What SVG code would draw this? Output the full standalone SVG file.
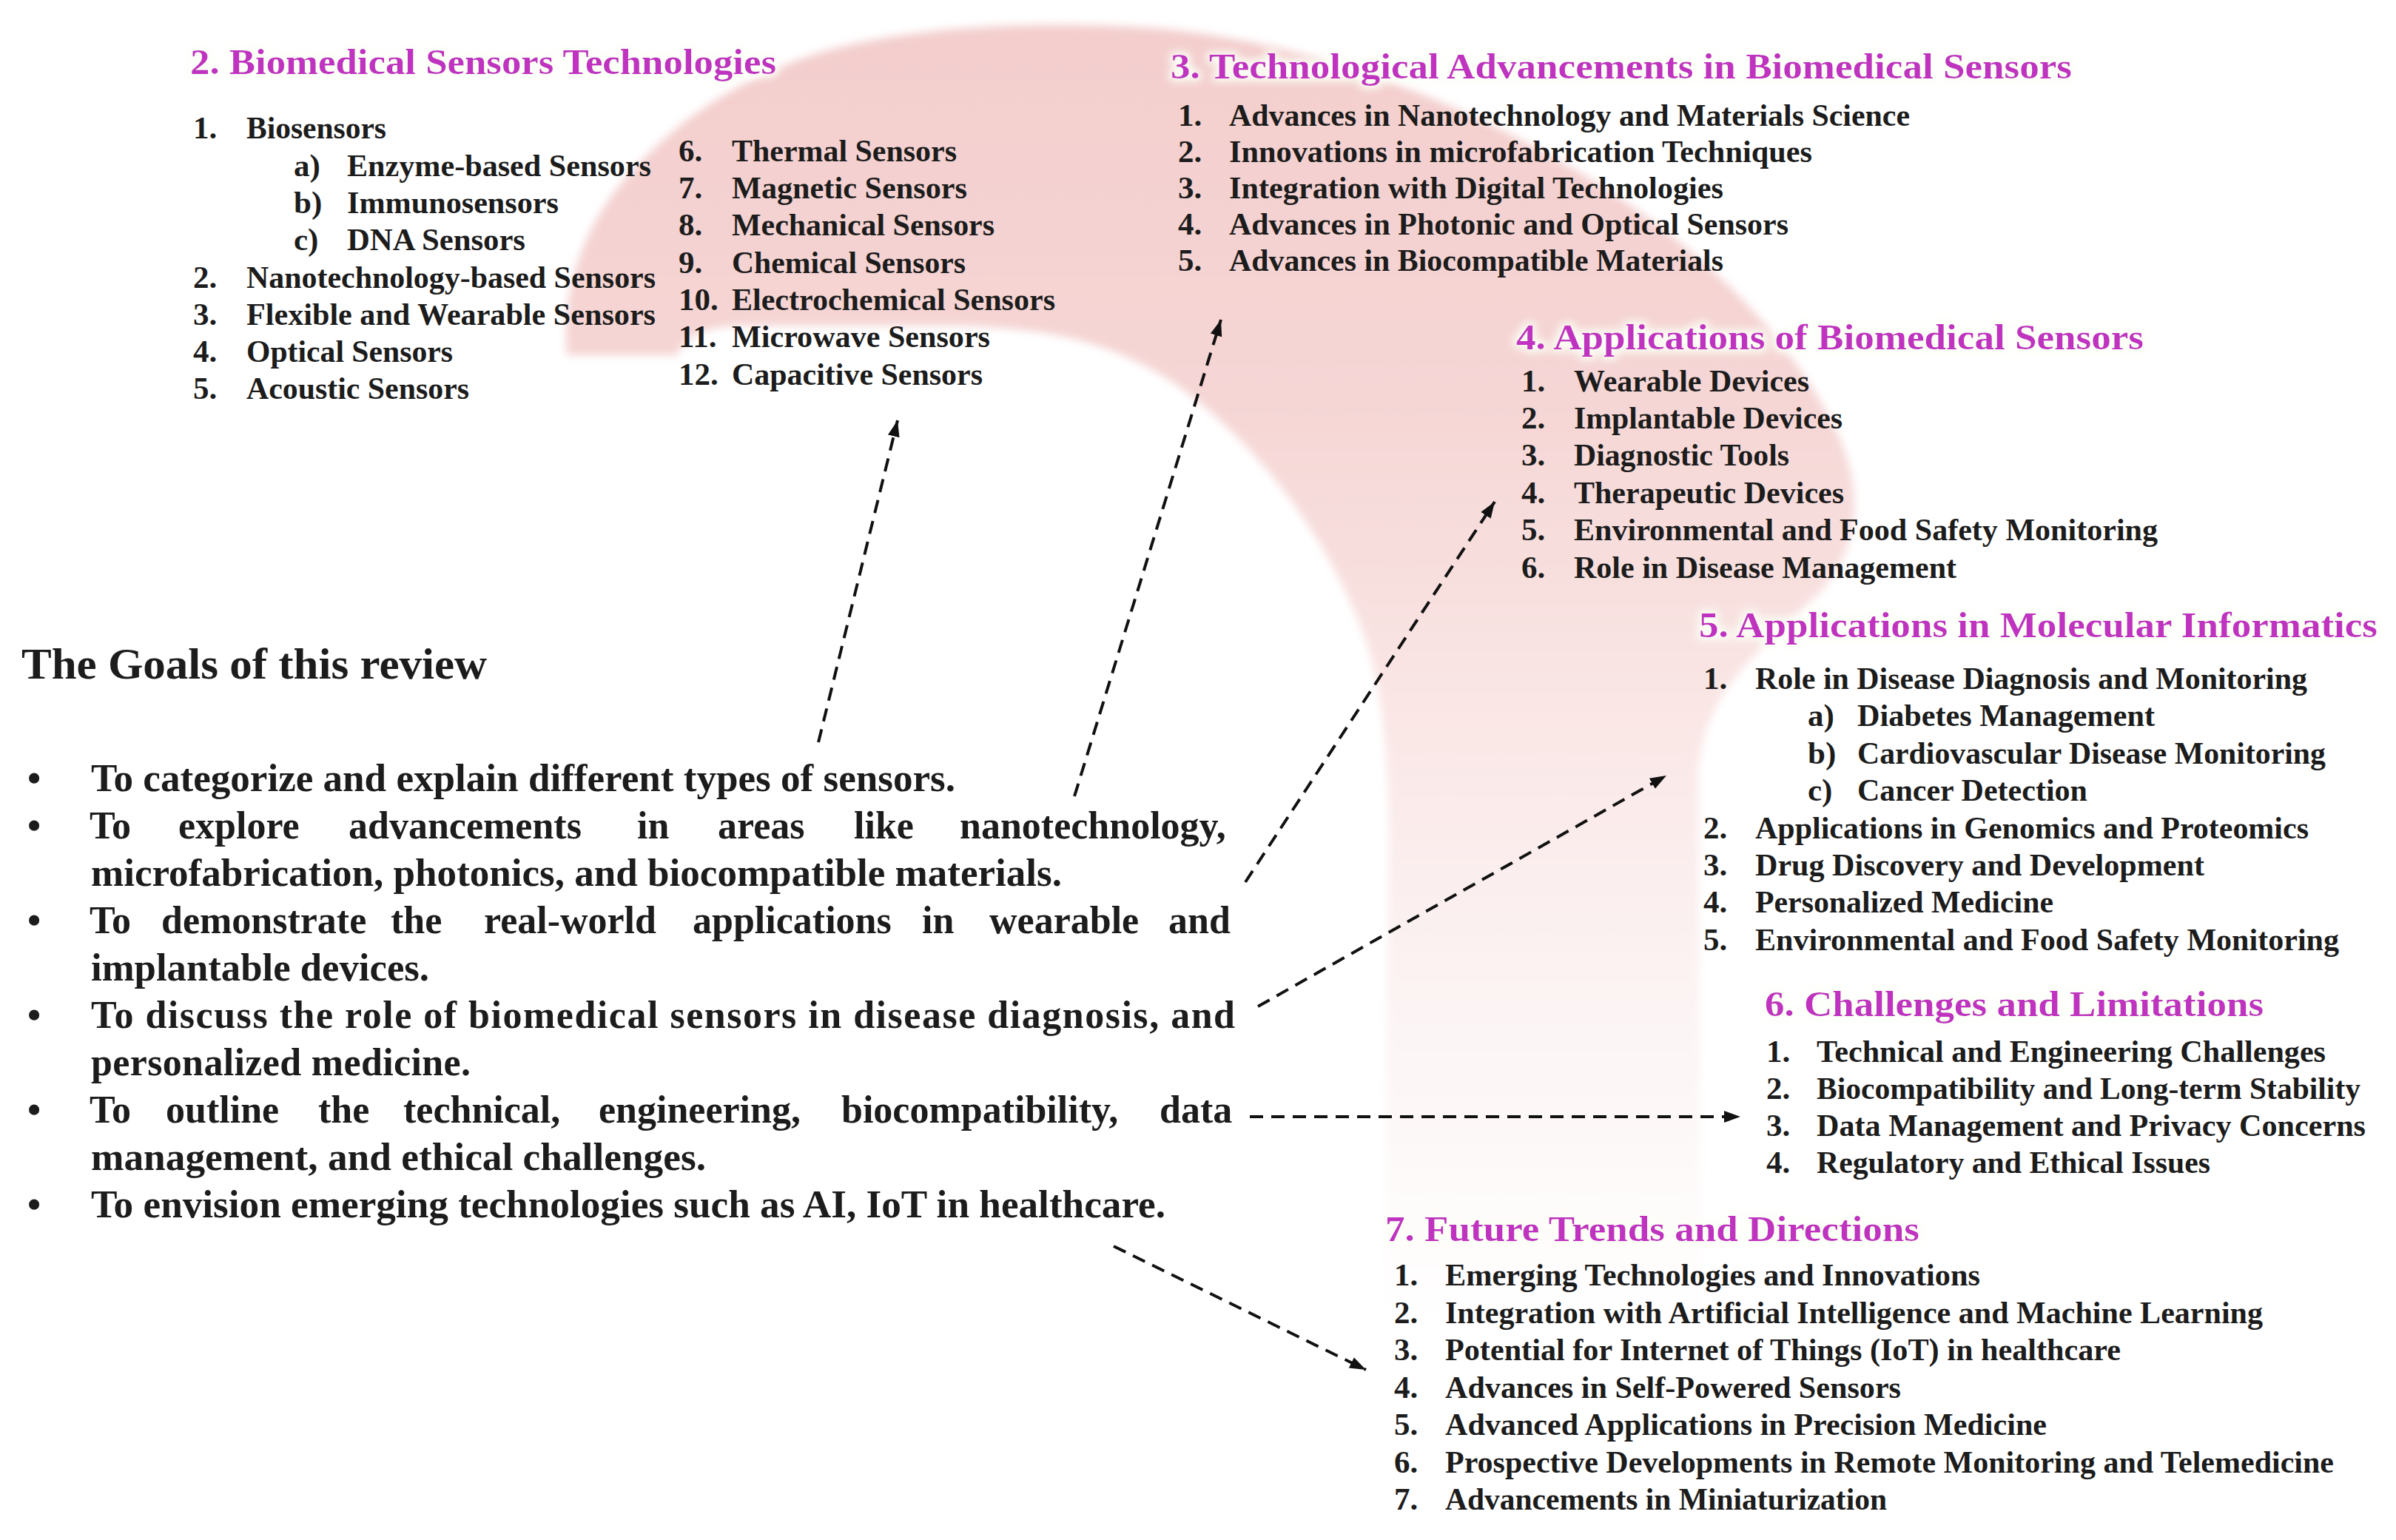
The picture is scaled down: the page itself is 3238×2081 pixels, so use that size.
<svg xmlns="http://www.w3.org/2000/svg" width="3238" height="2081" viewBox="0 0 3238 2081">
<defs>
<style>
.t{font-family:"Liberation Serif","Times New Roman",serif;font-weight:bold;}
.title{font-size:48px;fill:#c030c0;}
.it{font-size:43px;fill:#1c1c1c;}
.goal{font-size:52px;fill:#1c1c1c;}
.head{font-size:60px;fill:#1c1c1c;}
.conn{stroke:#111;stroke-width:4;stroke-dasharray:18 11;fill:none;marker-end:url(#arr);}
</style>
<linearGradient id="bandGrad" gradientUnits="userSpaceOnUse" x1="0" y1="0" x2="0" y2="1800">
<stop offset="0" stop-color="#f3cdcc"/>
<stop offset="0.3" stop-color="#f5d6d5"/>
<stop offset="0.5" stop-color="#f9e4e3"/>
<stop offset="0.72" stop-color="#fcf2f2"/>
<stop offset="1" stop-color="#ffffff"/>
</linearGradient>
<filter id="soft" x="-5%" y="-5%" width="110%" height="110%">
<feGaussianBlur stdDeviation="6"/>
</filter>
<filter id="glow" x="-5%" y="-40%" width="110%" height="180%">
<feMorphology in="SourceAlpha" operator="dilate" radius="4" result="d"/>
<feGaussianBlur in="d" stdDeviation="6" result="b"/>
<feFlood flood-color="#fbfff6"/>
<feComposite in2="b" operator="in" result="g"/>
<feMerge><feMergeNode in="g"/><feMergeNode in="SourceGraphic"/></feMerge>
</filter>
<marker id="arr" markerUnits="userSpaceOnUse" markerWidth="24" markerHeight="18" refX="22" refY="9" orient="auto">
<path d="M0,1 L22,9 L0,17 Z" fill="#111"/>
</marker>
</defs>
<rect width="3238" height="2081" fill="#ffffff"/>
<g id="band">
<path filter="url(#soft)" fill="url(#bandGrad)" d="M766,480 C758,400 785,320 830,260 C900,170 1000,100 1130,65 C1250,35 1400,28 1560,38 C1760,55 1960,130 2130,230 C2280,320 2400,430 2470,560 C2520,650 2520,730 2460,800 C2380,880 2300,930 2295,1050 L2300,1800 L1870,1800 L1875,1300 C1880,1100 1880,950 1840,850 C1790,720 1700,600 1590,520 C1500,460 1420,445 1300,440 L1000,440 C950,442 925,455 915,480 Z"/>
</g>
<g id="sec2" class="t">
<text class="title" filter="url(#glow)" x="257" y="100" textLength="792" lengthAdjust="spacingAndGlyphs">2. Biomedical Sensors Technologies</text>
<g class="it">
<text x="261" y="187">1.</text><text x="333" y="187" textLength="189" lengthAdjust="spacingAndGlyphs">Biosensors</text>
<text x="397" y="238">a)</text><text x="469" y="238" textLength="411" lengthAdjust="spacingAndGlyphs">Enzyme-based Sensors</text>
<text x="397" y="288">b)</text><text x="469" y="288" textLength="286" lengthAdjust="spacingAndGlyphs">Immunosensors</text>
<text x="397" y="338">c)</text><text x="469" y="338" textLength="241" lengthAdjust="spacingAndGlyphs">DNA Sensors</text>
<text x="261" y="389">2.</text><text x="333" y="389" textLength="553" lengthAdjust="spacingAndGlyphs">Nanotechnology-based Sensors</text>
<text x="261" y="439">3.</text><text x="333" y="439" textLength="553" lengthAdjust="spacingAndGlyphs">Flexible and Wearable Sensors</text>
<text x="261" y="489">4.</text><text x="333" y="489" textLength="279" lengthAdjust="spacingAndGlyphs">Optical Sensors</text>
<text x="261" y="539">5.</text><text x="333" y="539" textLength="301" lengthAdjust="spacingAndGlyphs">Acoustic Sensors</text>
<text x="917" y="218">6.</text><text x="989" y="218" textLength="304" lengthAdjust="spacingAndGlyphs">Thermal Sensors</text>
<text x="917" y="268">7.</text><text x="989" y="268" textLength="318" lengthAdjust="spacingAndGlyphs">Magnetic Sensors</text>
<text x="917" y="318">8.</text><text x="989" y="318" textLength="355" lengthAdjust="spacingAndGlyphs">Mechanical Sensors</text>
<text x="917" y="369">9.</text><text x="989" y="369" textLength="316" lengthAdjust="spacingAndGlyphs">Chemical Sensors</text>
<text x="917" y="419">10.</text><text x="989" y="419" textLength="437" lengthAdjust="spacingAndGlyphs">Electrochemical Sensors</text>
<text x="917" y="469">11.</text><text x="989" y="469" textLength="349" lengthAdjust="spacingAndGlyphs">Microwave Sensors</text>
<text x="917" y="520">12.</text><text x="989" y="520" textLength="339" lengthAdjust="spacingAndGlyphs">Capacitive Sensors</text>
</g>
</g>
<g id="sec3" class="t">
<text class="title" filter="url(#glow)" x="1582" y="106" textLength="1218" lengthAdjust="spacingAndGlyphs">3. Technological Advancements in Biomedical Sensors</text>
<g class="it">
<text x="1592" y="170">1.</text><text x="1661" y="170" textLength="920" lengthAdjust="spacingAndGlyphs">Advances in Nanotechnology and Materials Science</text>
<text x="1592" y="219">2.</text><text x="1661" y="219" textLength="788" lengthAdjust="spacingAndGlyphs">Innovations in microfabrication Techniques</text>
<text x="1592" y="268">3.</text><text x="1661" y="268" textLength="668" lengthAdjust="spacingAndGlyphs">Integration with Digital Technologies</text>
<text x="1592" y="317">4.</text><text x="1661" y="317" textLength="756" lengthAdjust="spacingAndGlyphs">Advances in Photonic and Optical Sensors</text>
<text x="1592" y="366">5.</text><text x="1661" y="366" textLength="668" lengthAdjust="spacingAndGlyphs">Advances in Biocompatible Materials</text>
</g>
</g>
<g id="sec4" class="t">
<text class="title" filter="url(#glow)" x="2049" y="472" textLength="848" lengthAdjust="spacingAndGlyphs">4. Applications of Biomedical Sensors</text>
<g class="it">
<text x="2056" y="529">1.</text><text x="2127" y="529" textLength="318" lengthAdjust="spacingAndGlyphs">Wearable Devices</text>
<text x="2056" y="579">2.</text><text x="2127" y="579" textLength="363" lengthAdjust="spacingAndGlyphs">Implantable Devices</text>
<text x="2056" y="629">3.</text><text x="2127" y="629" textLength="291" lengthAdjust="spacingAndGlyphs">Diagnostic Tools</text>
<text x="2056" y="680">4.</text><text x="2127" y="680" textLength="365" lengthAdjust="spacingAndGlyphs">Therapeutic Devices</text>
<text x="2056" y="730">5.</text><text x="2127" y="730" textLength="789" lengthAdjust="spacingAndGlyphs">Environmental and Food Safety Monitoring</text>
<text x="2056" y="781">6.</text><text x="2127" y="781" textLength="517" lengthAdjust="spacingAndGlyphs">Role in Disease Management</text>
</g>
</g>
<g id="sec5" class="t">
<text class="title" filter="url(#glow)" x="2296" y="861" textLength="917" lengthAdjust="spacingAndGlyphs">5. Applications in Molecular Informatics</text>
<g class="it">
<text x="2302" y="931">1.</text><text x="2372" y="931" textLength="746" lengthAdjust="spacingAndGlyphs">Role in Disease Diagnosis and Monitoring</text>
<text x="2443" y="981">a)</text><text x="2510" y="981" textLength="402" lengthAdjust="spacingAndGlyphs">Diabetes Management</text>
<text x="2443" y="1032">b)</text><text x="2510" y="1032" textLength="633" lengthAdjust="spacingAndGlyphs">Cardiovascular Disease Monitoring</text>
<text x="2443" y="1082">c)</text><text x="2510" y="1082" textLength="311" lengthAdjust="spacingAndGlyphs">Cancer Detection</text>
<text x="2302" y="1133">2.</text><text x="2372" y="1133" textLength="748" lengthAdjust="spacingAndGlyphs">Applications in Genomics and Proteomics</text>
<text x="2302" y="1183">3.</text><text x="2372" y="1183" textLength="607" lengthAdjust="spacingAndGlyphs">Drug Discovery and Development</text>
<text x="2302" y="1233">4.</text><text x="2372" y="1233" textLength="403" lengthAdjust="spacingAndGlyphs">Personalized Medicine</text>
<text x="2302" y="1284">5.</text><text x="2372" y="1284" textLength="789" lengthAdjust="spacingAndGlyphs">Environmental and Food Safety Monitoring</text>
</g>
</g>
<g id="sec6" class="t">
<text class="title" filter="url(#glow)" x="2385" y="1373" textLength="674" lengthAdjust="spacingAndGlyphs">6. Challenges and Limitations</text>
<g class="it">
<text x="2387" y="1435">1.</text><text x="2455" y="1435" textLength="688" lengthAdjust="spacingAndGlyphs">Technical and Engineering Challenges</text>
<text x="2387" y="1485">2.</text><text x="2455" y="1485" textLength="735" lengthAdjust="spacingAndGlyphs">Biocompatibility and Long-term Stability</text>
<text x="2387" y="1535">3.</text><text x="2455" y="1535" textLength="742" lengthAdjust="spacingAndGlyphs">Data Management and Privacy Concerns</text>
<text x="2387" y="1585">4.</text><text x="2455" y="1585" textLength="532" lengthAdjust="spacingAndGlyphs">Regulatory and Ethical Issues</text>
</g>
</g>
<g id="sec7" class="t">
<text class="title" filter="url(#glow)" x="1872" y="1677" textLength="722" lengthAdjust="spacingAndGlyphs">7. Future Trends and Directions</text>
<g class="it">
<text x="1884" y="1737">1.</text><text x="1953" y="1737" textLength="723" lengthAdjust="spacingAndGlyphs">Emerging Technologies and Innovations</text>
<text x="1884" y="1788">2.</text><text x="1953" y="1788" textLength="1105" lengthAdjust="spacingAndGlyphs">Integration with Artificial Intelligence and Machine Learning</text>
<text x="1884" y="1838">3.</text><text x="1953" y="1838" textLength="913" lengthAdjust="spacingAndGlyphs">Potential for Internet of Things (IoT) in healthcare</text>
<text x="1884" y="1889">4.</text><text x="1953" y="1889" textLength="616" lengthAdjust="spacingAndGlyphs">Advances in Self-Powered Sensors</text>
<text x="1884" y="1939">5.</text><text x="1953" y="1939" textLength="813" lengthAdjust="spacingAndGlyphs">Advanced Applications in Precision Medicine</text>
<text x="1884" y="1990">6.</text><text x="1953" y="1990" textLength="1201" lengthAdjust="spacingAndGlyphs">Prospective Developments in Remote Monitoring and Telemedicine</text>
<text x="1884" y="2040">7.</text><text x="1953" y="2040" textLength="597" lengthAdjust="spacingAndGlyphs">Advancements in Miniaturization</text>
</g>
</g>
<g id="goals" class="t">
<text class="head" x="29" y="917" textLength="629" lengthAdjust="spacingAndGlyphs">The Goals of this review</text>
<g class="goal">
<text x="37" y="1069">•</text>
<text x="37" y="1133">•</text>
<text x="37" y="1261">•</text>
<text x="37" y="1389">•</text>
<text x="37" y="1517">•</text>
<text x="37" y="1645">•</text>
<text x="123" y="1069" textLength="1168" lengthAdjust="spacingAndGlyphs">To categorize and explain different types of sensors.</text>
<text y="1133"><tspan x="121">To</tspan> <tspan x="241">explore</tspan> <tspan x="471">advancements</tspan> <tspan x="861">in</tspan> <tspan x="970">areas</tspan> <tspan x="1154">like</tspan> <tspan x="1297">nanotechnology,</tspan></text>
<text x="123" y="1197" textLength="1312" lengthAdjust="spacingAndGlyphs">microfabrication, photonics, and biocompatible materials.</text>
<text y="1261"><tspan x="121">To</tspan> <tspan x="218">demonstrate</tspan> <tspan x="528">the</tspan> <tspan x="654">real-world</tspan> <tspan x="936">applications</tspan> <tspan x="1246">in</tspan> <tspan x="1337">wearable</tspan> <tspan x="1579">and</tspan></text>
<text x="123" y="1325" textLength="457" lengthAdjust="spacingAndGlyphs">implantable devices.</text>
<text x="123" y="1389" textLength="1546" lengthAdjust="spacing">To discuss the role of biomedical sensors in disease diagnosis, and</text>
<text x="123" y="1453" textLength="513" lengthAdjust="spacing">personalized  medicine.</text>
<text y="1517"><tspan x="121">To</tspan> <tspan x="224">outline</tspan> <tspan x="430">the</tspan> <tspan x="545">technical,</tspan> <tspan x="809">engineering,</tspan> <tspan x="1137">biocompatibility,</tspan> <tspan x="1567">data</tspan></text>
<text x="123" y="1581" textLength="831" lengthAdjust="spacingAndGlyphs">management, and ethical challenges.</text>
<text x="123" y="1645" textLength="1452" lengthAdjust="spacingAndGlyphs">To envision emerging technologies such as AI, IoT in healthcare.</text>
</g>
</g>
<g id="connectors">
<path class="conn" d="M1106,1003 L1213,568"/>
<path class="conn" d="M1452,1076 L1650,432"/>
<path class="conn" d="M1683,1192 L2020,678"/>
<path class="conn" d="M1700,1360 L2252,1048"/>
<path class="conn" d="M1689,1509 L2352,1509"/>
<path class="conn" d="M1505,1684 L1846,1851"/>
</g>
</svg>
